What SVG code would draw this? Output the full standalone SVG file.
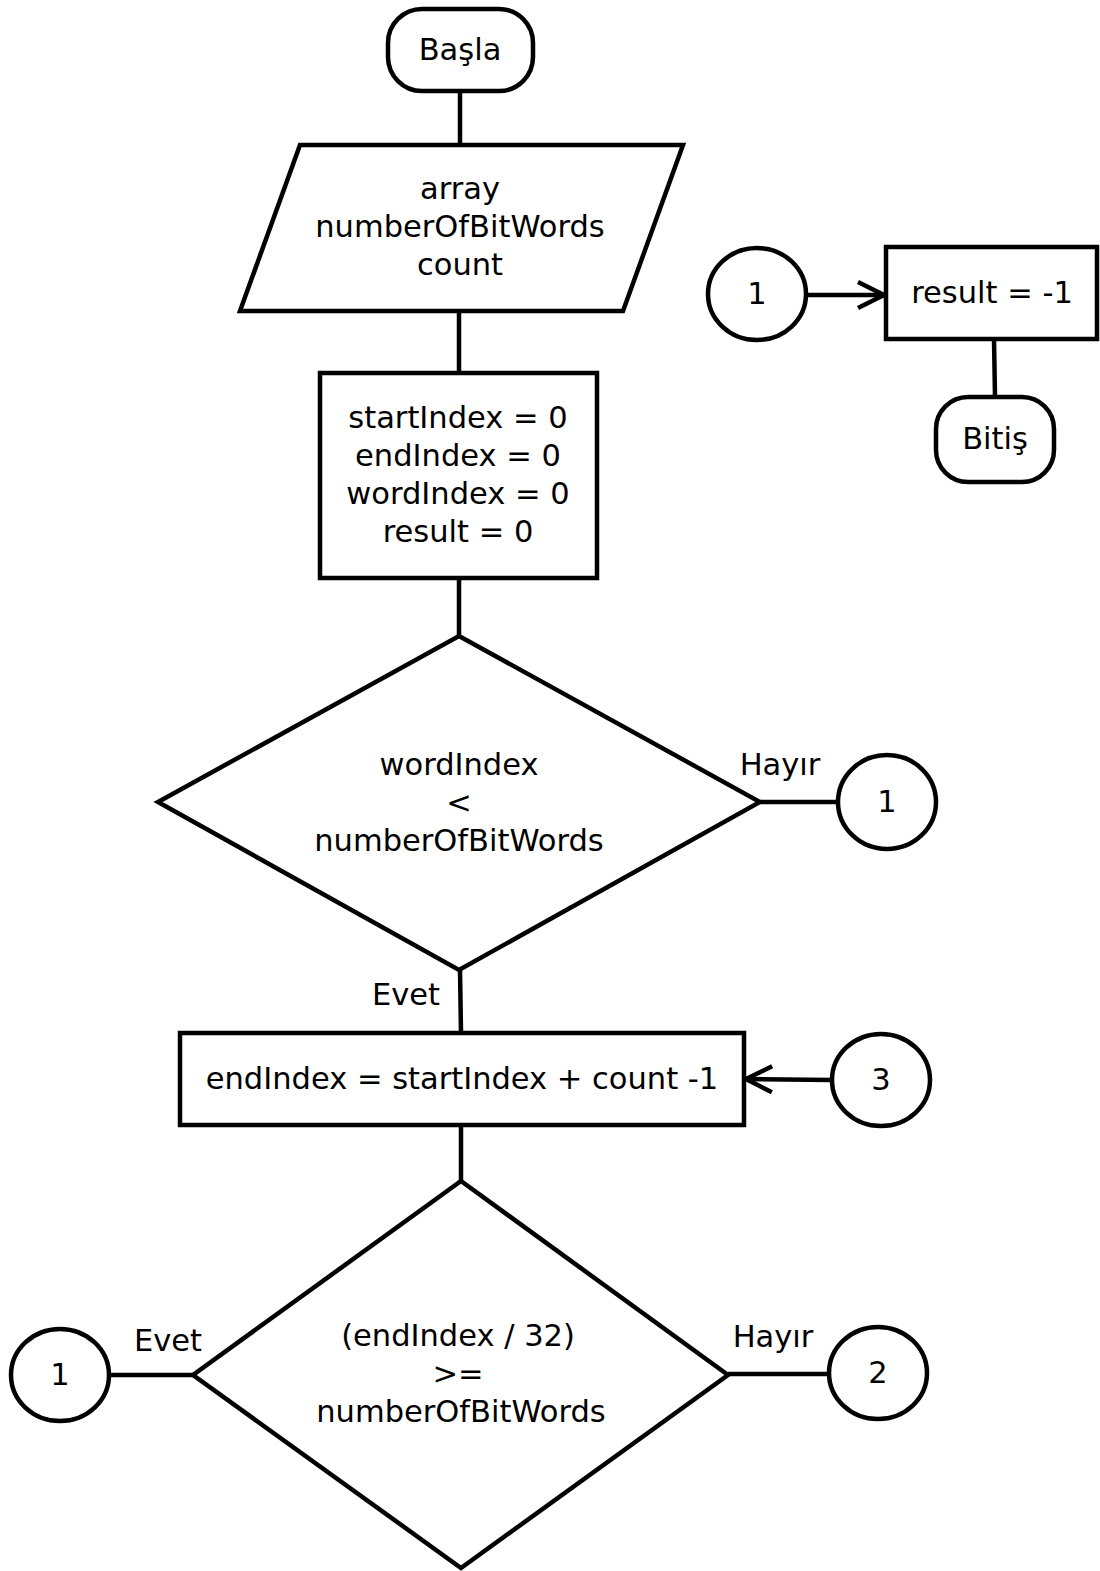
<svg xmlns="http://www.w3.org/2000/svg" width="1100" height="1571" viewBox="0 0 1100 1571">
<style>
.s{fill:#fff;stroke:#000;stroke-width:4.5;stroke-linejoin:miter}
.c{fill:none;stroke:#000;stroke-width:4.5}
text{font-family:"DejaVu Sans",sans-serif;font-size:30.5px;fill:#000;text-anchor:middle}
</style>
<defs>
<marker id="ah" markerUnits="userSpaceOnUse" markerWidth="34" markerHeight="34" refX="30" refY="17" orient="auto">
<path d="M4,4 L30,17 L4,30" fill="none" stroke="#000" stroke-width="4.5"/>
</marker>
</defs>
<g id="connectors">
<line class="c" x1="460" y1="91" x2="460" y2="145"/>
<line class="c" x1="459" y1="311" x2="459" y2="373"/>
<line class="c" x1="459" y1="578" x2="459" y2="636"/>
<line class="c" x1="760" y1="802" x2="838" y2="802"/>
<line class="c" x1="460" y1="970" x2="461" y2="1033"/>
<line class="c" x1="832" y1="1080" x2="746" y2="1079" marker-end="url(#ah)"/>
<line class="c" x1="461" y1="1125" x2="461" y2="1181"/>
<line class="c" x1="110" y1="1375" x2="193" y2="1375"/>
<line class="c" x1="728" y1="1374" x2="830" y2="1374"/>
<line class="c" x1="806" y1="295" x2="884" y2="295" marker-end="url(#ah)"/>
<line class="c" x1="994" y1="339" x2="995" y2="397"/>
<text x="780" y="775">Hayır</text>
<text x="406" y="1005">Evet</text>
<text x="168" y="1351">Evet</text>
<text x="773" y="1347">Hayır</text>
</g>
<g id="start"><rect class="s" x="388" y="9" width="145" height="82" rx="34"/><text x="460" y="60">Başla</text></g>
<g id="input"><polygon class="s" points="300,145 683,145 623,311 240,311"/><text x="460" y="199">array</text><text x="460" y="237">numberOfBitWords</text><text x="460" y="275">count</text></g>
<g id="init"><rect class="s" x="320" y="373" width="277" height="205"/><text x="458" y="428">startIndex = 0</text><text x="458" y="466">endIndex = 0</text><text x="458" y="504">wordIndex = 0</text><text x="458" y="542">result = 0</text></g>
<g id="cond1"><polygon class="s" points="459,636 760,802 459,970 158,802"/><text x="459" y="775">wordIndex</text><text x="459" y="813">&lt;</text><text x="459" y="851">numberOfBitWords</text></g>
<g id="c1a"><ellipse class="s" cx="887" cy="802" rx="49" ry="47"/><text x="887" y="812">1</text></g>
<g id="calc"><rect class="s" x="180" y="1033" width="564" height="92"/><text x="462" y="1089">endIndex = startIndex + count -1</text></g>
<g id="c3"><ellipse class="s" cx="881" cy="1080" rx="49" ry="46"/><text x="881" y="1090">3</text></g>
<g id="cond2"><polygon class="s" points="461,1181 728,1375 461,1568 193,1375"/><text x="458" y="1346">(endIndex / 32)</text><text x="458" y="1384">&gt;=</text><text x="461" y="1422">numberOfBitWords</text></g>
<g id="c1b"><ellipse class="s" cx="60" cy="1375" rx="49" ry="46"/><text x="60" y="1385">1</text></g>
<g id="c2"><ellipse class="s" cx="878" cy="1373" rx="49" ry="46"/><text x="878" y="1383">2</text></g>
<g id="c1c"><ellipse class="s" cx="757" cy="294" rx="49" ry="46"/><text x="757" y="304">1</text></g>
<g id="res"><rect class="s" x="886" y="247" width="211" height="92"/><text x="992" y="303">result = -1</text></g>
<g id="end"><rect class="s" x="936" y="397" width="118" height="85" rx="32"/><text x="995" y="449">Bitiş</text></g>
</svg>
